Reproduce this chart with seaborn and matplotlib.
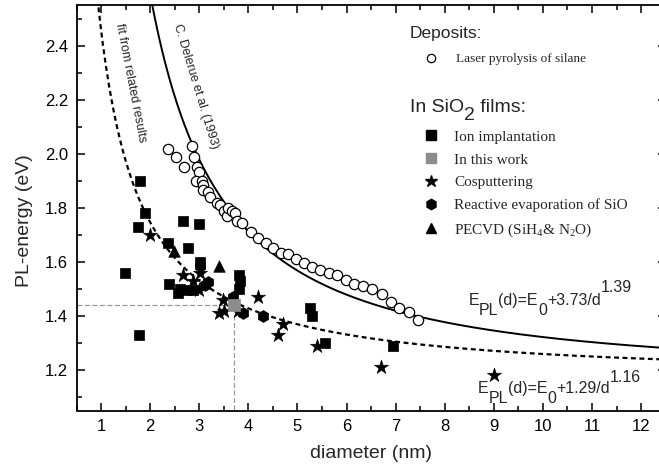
import numpy as np
import pandas as pd
import matplotlib
matplotlib.use("Agg")
import matplotlib.pyplot as plt
import matplotlib.transforms as mtransforms
from matplotlib.lines import Line2D
from matplotlib.ticker import MultipleLocator
import seaborn as sns

# Deposits: laser pyrolysis of silane
laser_d = [2.36, 2.53, 2.69, 2.85, 2.90, 2.95, 3.00, 2.93, 3.05, 3.08, 3.08, 3.18,
           3.22, 3.36, 3.42, 3.50, 3.57, 3.59, 3.67, 3.73, 3.77, 3.87, 4.05, 4.20,
           4.35, 4.50, 4.66, 4.81, 4.97, 5.13, 5.30, 5.47, 5.64, 5.81, 5.98, 6.15,
           6.34, 6.52, 6.72, 6.90, 7.07, 7.27, 7.46]
laser_e = [2.02, 1.99, 1.95, 2.03, 1.99, 1.95, 1.935, 1.90, 1.90, 1.885, 1.865, 1.86,
           1.84, 1.82, 1.81, 1.79, 1.77, 1.80, 1.79, 1.78, 1.75, 1.745, 1.71, 1.69,
           1.67, 1.65, 1.635, 1.63, 1.61, 1.595, 1.58, 1.57, 1.56, 1.55, 1.535, 1.52,
           1.51, 1.50, 1.48, 1.45, 1.43, 1.415, 1.385]

# In SiO2 films
ion_d = [1.79, 1.90, 1.75, 2.67, 3.00, 2.36, 2.77, 1.49, 3.01, 2.39, 2.61, 2.57,
         2.75, 2.88, 3.80, 3.83, 3.80, 1.77, 5.26, 5.30, 5.56, 6.95]
ion_e = [1.90, 1.78, 1.73, 1.75, 1.74, 1.67, 1.65, 1.56, 1.60, 1.52, 1.50, 1.485,
         1.495, 1.495, 1.55, 1.53, 1.50, 1.33, 1.43, 1.40, 1.30, 1.29]

work_d = [3.70]
work_e = [1.44]

cosp_d = [2.00, 2.67, 2.87, 3.02, 3.00, 3.49, 3.50, 3.41, 3.78, 4.20, 4.71, 4.60,
          5.40, 6.70, 9.00]
cosp_e = [1.70, 1.55, 1.53, 1.56, 1.495, 1.46, 1.42, 1.41, 1.42, 1.47, 1.37, 1.33,
          1.29, 1.21, 1.18]

evap_d = [3.01, 3.18, 3.12, 3.69, 3.90, 4.30]
evap_e = [1.585, 1.525, 1.515, 1.47, 1.41, 1.40]

pecvd_d = [2.49, 3.41]
pecvd_e = [1.64, 1.585]

# Power-law size dependences E(d) = E0 + A / d**n
E0 = 1.17
delerue_A, delerue_n = 3.73, 1.39
related_A, related_n = 1.29, 1.16

x_ticks = list(range(1, 13))
y_ticks = [1.2, 1.4, 1.6, 1.8, 2.0, 2.2, 2.4]

sns.set_theme(style="ticks")
plt.rcParams["font.family"] = ["Liberation Sans", "DejaVu Sans"]
plt.rcParams["mathtext.fontset"] = "custom"
plt.rcParams["mathtext.rm"] = "Liberation Sans"
plt.rcParams["mathtext.it"] = "Liberation Sans:italic"

W, H = 659, 465
fig = plt.figure(figsize=(W / 100, H / 100), dpi=100)
renderer = fig.canvas.get_renderer()


def fx(px):
    return px / W


def fy(py):
    return 1 - py / H


def text_width(s, **kw):
    t = fig.text(0, 0, s, **kw)
    w = t.get_window_extent(renderer).width
    t.remove()
    return w


def segmented_text(x, y, parts, transform, **kw):
    """Write text pieces one after another, each shifted vertically by dy pixels."""
    prefix = ""
    for s, dy in parts:
        offset = text_width(prefix, **kw) if prefix else 0.0
        tr = mtransforms.offset_copy(transform, fig=fig, x=offset, y=dy, units="dots")
        fig.text(x, y, s, transform=tr, ha="left", va="baseline", **kw)
        prefix += s


ax = fig.add_axes([fx(76.5), fy(410.5), fx(665.6) - fx(76.5), fy(5.5) - fy(410.5)])
ax.set_xlim(0.5, 12.5)
ax.set_ylim(1.05, 2.55)

# Fitted curves
d_curve = np.linspace(0.9, 12.6, 600)
curves = pd.DataFrame({
    "d": d_curve,
    "delerue": E0 + delerue_A / d_curve ** delerue_n,
    "related": E0 + related_A / d_curve ** related_n,
})
sns.lineplot(data=curves, x="d", y="delerue", ax=ax, color="black", lw=1.4)
sns.lineplot(data=curves, x="d", y="related", ax=ax, color="black", lw=1.6,
             linestyle=(0, (2.2, 1.6)))

# Guide lines to the point from this work
ax.plot([0.5, work_d[0]], [work_e[0], work_e[0]], color="#999999", lw=0.9,
        linestyle=(0, (4, 2)), zorder=1)
ax.plot([work_d[0], work_d[0]], [1.05, work_e[0]], color="#999999", lw=0.9,
        linestyle=(0, (4, 2)), zorder=1)

# Data sets
sns.scatterplot(x=laser_d, y=laser_e, ax=ax, marker="o", s=55, facecolor="white",
                edgecolor="black", linewidth=0.9, zorder=3)
sns.scatterplot(x=ion_d, y=ion_e, ax=ax, marker="s", s=52, color="black",
                edgecolor="black", linewidth=0.5, zorder=3)
sns.scatterplot(x=cosp_d, y=cosp_e, ax=ax, marker="*", s=115, color="black",
                edgecolor="black", linewidth=0.4, zorder=3)
sns.scatterplot(x=evap_d, y=evap_e, ax=ax, marker="h", s=75, color="black",
                edgecolor="black", linewidth=0.4, zorder=3)
sns.scatterplot(x=pecvd_d, y=pecvd_e, ax=ax, marker="^", s=70, color="black",
                edgecolor="black", linewidth=0.4, zorder=3)
sns.scatterplot(x=work_d, y=work_e, ax=ax, marker="s", s=80, color="#8c8c8c",
                edgecolor="#8c8c8c", linewidth=0.5, zorder=4)

# Axes styling
ax.set_xticks(x_ticks)
ax.set_yticks(y_ticks)
ax.set_yticklabels([f"{v:.1f}" for v in y_ticks])
ax.xaxis.set_minor_locator(MultipleLocator(0.5))
ax.yaxis.set_minor_locator(MultipleLocator(0.1))
ax.tick_params(which="both", direction="in", top=True, right=True, colors="black",
               width=1.1, labelsize=12, pad=6)
ax.tick_params(which="major", length=6)
ax.tick_params(which="minor", length=3.5)
for sp in ax.spines.values():
    sp.set_linewidth(1.3)
    sp.set_color("black")
ax.set_xlabel("diameter (nm)", fontsize=14, labelpad=8)
ax.set_ylabel("PL-energy (eV)", fontsize=14)
ax.yaxis.set_label_coords(-0.074, 0.47)

# Curve labels
ax.text(1.36, 2.485, "fit from related results", rotation=-79, fontsize=9,
        rotation_mode="anchor", ha="left", va="center")
ax.text(2.55, 2.48, "C. Delerue et al. (1993)", rotation=-73, fontsize=9,
        rotation_mode="anchor", ha="left", va="center")

eq_font = dict(fontsize=11.5)
segmented_text(8.48, 1.441, [("E", 0), ("PL", -10), ("(d)=E", 0), ("0", -10),
                             ("+3.73/d", 0), ("1.39", 13)], ax.transData, **eq_font)
segmented_text(8.68, 1.115, [("E", 0), ("PL", -10), ("(d)=E", 0), ("0", -10),
                             ("+1.29/d", 0), ("1.16", 11)], ax.transData, **eq_font)

# Legend headings
segmented_text(fx(410), fy(38), [("Deposits:", 0)], fig.transFigure, fontsize=12.5)
segmented_text(fx(410), fy(112), [("In SiO", 0), ("2", -8), (" films:", 0)],
               fig.transFigure, fontsize=14)

# Legend entries
serif_small = {"family": ["Liberation Serif", "DejaVu Serif"], "size": 9.5}
serif = {"family": ["Liberation Serif", "DejaVu Serif"], "size": 11}

dep_handles = [Line2D([], [], ls="none", marker="o", ms=6, mfc="white", mec="black", mew=0.9)]
leg1 = ax.legend(dep_handles, ["Laser pyrolysis of silane"],
                 loc="upper left", bbox_to_anchor=(fx(410), fy(53)),
                 bbox_transform=fig.transFigure, frameon=False, prop=serif_small,
                 borderpad=0, handlelength=3.2, handletextpad=0.25,
                 borderaxespad=0)
ax.add_artist(leg1)

film_handles = [
    Line2D([], [], ls="none", marker="s", ms=6.5, mfc="black", mec="black"),
    Line2D([], [], ls="none", marker="s", ms=6.5, mfc="#8c8c8c", mec="#8c8c8c"),
    Line2D([], [], ls="none", marker="*", ms=9, mfc="black", mec="black"),
    Line2D([], [], ls="none", marker="h", ms=7.5, mfc="black", mec="black"),
    Line2D([], [], ls="none", marker="^", ms=7, mfc="black", mec="black"),
]
film_labels = ["Ion implantation", "In this work", "Cosputtering",
               "Reactive evaporation of SiO",
               r"PECVD (SiH$\mathregular{_4}$& N$\mathregular{_2}$O)"]
leg2 = ax.legend(film_handles, film_labels,
                 loc="upper left", bbox_to_anchor=(fx(410), fy(130)),
                 bbox_transform=fig.transFigure, frameon=False, prop=serif,
                 borderpad=0, handlelength=2.7, handletextpad=0.2,
                 labelspacing=0.6, borderaxespad=0)

fig.savefig("out.png", dpi=100)
